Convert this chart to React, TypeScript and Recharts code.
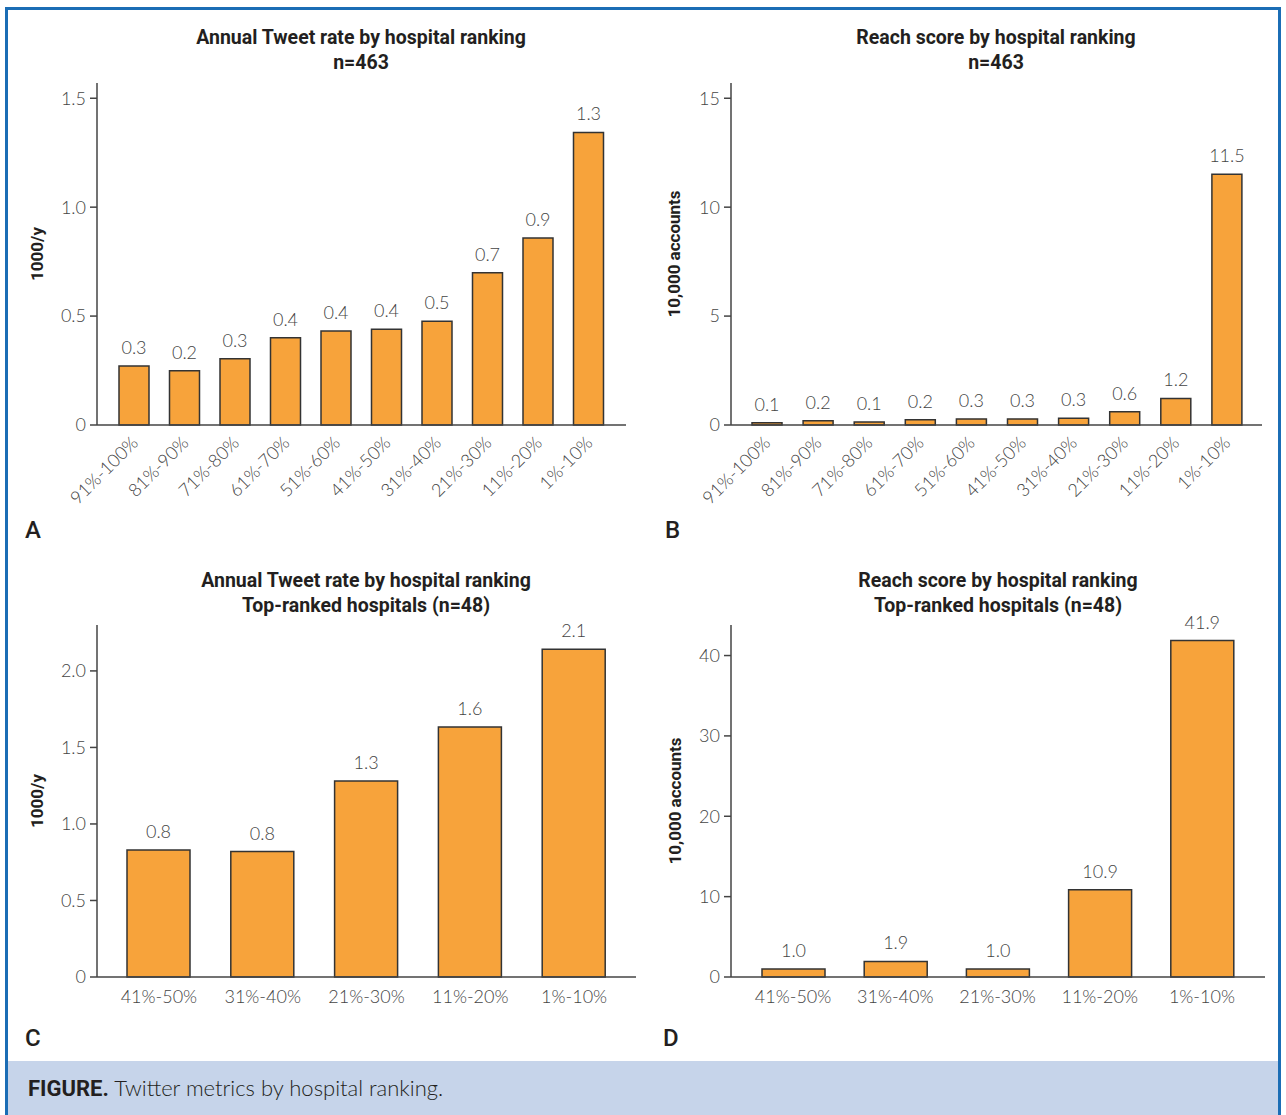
import React from 'react'
import { BarChart, Bar, XAxis, YAxis, LabelList } from 'recharts'

// hospital ranking groups
const allGroups = ['91%-100%', '81%-90%', '71%-80%', '61%-70%', '51%-60%', '41%-50%', '31%-40%', '21%-30%', '11%-20%', '1%-10%']
const topGroups = ['41%-50%', '31%-40%', '21%-30%', '11%-20%', '1%-10%']

// annual tweet rate (1000/y) and reach score (10,000 accounts)
const tweetRateAll = [0.271, 0.249, 0.304, 0.401, 0.431, 0.44, 0.476, 0.699, 0.858, 1.343]
const reachAll = [0.107, 0.2, 0.14, 0.24, 0.28, 0.28, 0.31, 0.61, 1.22, 11.51]
const tweetRateTop = [0.83, 0.82, 1.28, 1.634, 2.141]
const reachTop = [0.99, 1.93, 0.99, 10.86, 41.87]

const ticksA = [0, 0.5, 1.0, 1.5]
const ticksB = [0, 5, 10, 15]
const ticksC = [0, 0.5, 1.0, 1.5, 2.0]
const ticksD = [0, 10, 20, 30, 40]

const BAR = '#F7A33B'
const INK = '#333'
const TICK_FONT = 'Lato, "Open Sans", sans-serif'
const BOLD_FONT = 'Roboto, "Liberation Sans", sans-serif'

const toRows = (groups: string[], values: number[]) => groups.map((g, i) => ({ group: g, value: values[i] }))

const RotatedTick = (props: any) => {
  const { x, y, payload } = props
  const ax = x + 5
  const ay = y + 19
  return (
    <text x={ax} y={ay} transform={`rotate(-45 ${ax} ${ay})`} textAnchor="end" fontFamily={TICK_FONT} fontWeight={300} fontSize={18} fill="#444">
      {payload.value}
    </text>
  )
}

const FlatTick = (props: any) => {
  const { x, y, payload } = props
  return (
    <text x={x} y={y + 26} textAnchor="middle" fontFamily={TICK_FONT} fontWeight={300} fontSize={18} fill="#444">
      {payload.value}
    </text>
  )
}

interface PanelProps {
  left: number
  top: number
  width: number
  height: number
  plotTop: number
  plotRight: number
  axisX: number
  axisY: number
  pad: [number, number]
  barSize: number
  rows: { group: string; value: number }[]
  domain: [number, number]
  ticks: number[]
  fmt: (v: number) => string
  rotated?: boolean
}

function Panel(p: PanelProps) {
  return (
    <div style={{ position: 'absolute', left: p.left, top: p.top }}>
      <BarChart width={p.width} height={p.height} data={p.rows} margin={{ top: p.plotTop, right: p.width - p.plotRight, bottom: 0, left: 0 }}>
        <XAxis
          dataKey="group"
          interval={0}
          height={p.height - p.axisY}
          tickLine={false}
          tickSize={0}
          tickMargin={0}
          padding={{ left: p.pad[0], right: p.pad[1] }}
          stroke="#444"
          strokeWidth={1.5}
          tick={p.rotated ? <RotatedTick /> : <FlatTick />}
        />
        <YAxis
          width={p.axisX}
          domain={p.domain}
          ticks={p.ticks}
          interval={0}
          tickSize={7}
          tickMargin={4}
          tickFormatter={p.fmt}
          stroke="#444"
          strokeWidth={1.5}
          tick={{ fontFamily: TICK_FONT, fontWeight: 300, fontSize: 18, fill: '#444' }}
        />
        <Bar dataKey="value" fill={BAR} stroke={INK} strokeWidth={1.5} barSize={p.barSize} isAnimationActive={false}>
          <LabelList dataKey="value" position="top" offset={12} formatter={(v: any) => Number(v).toFixed(1)} fontFamily={TICK_FONT} fontWeight={300} fontSize={18} fill="#444" />
        </Bar>
      </BarChart>
    </div>
  )
}

const titleStyle = (cx: number, y: number): React.CSSProperties => ({
  position: 'absolute', left: cx - 250, top: y, width: 500, textAlign: 'center',
  fontFamily: BOLD_FONT, fontWeight: 700, fontSize: 19.5, lineHeight: '25px', color: '#231f20',
})

const axisTitle = (cx: number, cy: number, text: string) => (
  <div style={{
    position: 'absolute', left: cx, top: cy, transform: 'translate(-50%, -50%) rotate(-90deg)', whiteSpace: 'nowrap',
    fontFamily: BOLD_FONT, fontWeight: 700, fontSize: 17, color: '#231f20',
  }}>{text}</div>
)

const letter = (x: number, y: number, t: string) => (
  <div style={{ position: 'absolute', left: x, top: y, fontFamily: BOLD_FONT, fontWeight: 500, fontSize: 24, lineHeight: '24px', color: '#231f20' }}>{t}</div>
)

export default function App() {
  const one = (v: number) => (v === 0 ? '0' : v.toFixed(1))
  const int = (v: number) => String(v)
  return (
    <div style={{ position: 'absolute', left: 0, top: 0, width: 1286, height: 1115, background: '#fff', overflow: 'hidden' }}>
      <div style={{ position: 'absolute', left: 5, top: 7, width: 1270, height: 1120, border: '3px solid #1b6db5', boxSizing: 'content-box' }} />
      <div style={{ position: 'absolute', left: 8, top: 1061, width: 1270, height: 60, background: '#c6d4ea' }} />
      <div style={{ position: 'absolute', left: 28, top: 1074, fontSize: 22, color: '#231f20', whiteSpace: 'nowrap' }}>
        <span style={{ fontFamily: BOLD_FONT, fontWeight: 700 }}>FIGURE.</span>
        <span style={{ fontFamily: TICK_FONT, fontWeight: 300 }}> Twitter metrics by hospital ranking.</span>
      </div>

      <div style={titleStyle(361, 25)}>Annual Tweet rate by hospital ranking<br />n=463</div>
      <div style={titleStyle(996, 25)}>Reach score by hospital ranking<br />n=463</div>
      <div style={titleStyle(366, 568)}>Annual Tweet rate by hospital ranking<br />Top-ranked hospitals (n=48)</div>
      <div style={titleStyle(998, 568)}>Reach score by hospital ranking<br />Top-ranked hospitals (n=48)</div>

      <Panel left={0} top={0} width={640} height={540} plotTop={83} plotRight={626} axisX={97} axisY={425} pad={[12, 12]} barSize={30}
        rows={toRows(allGroups, tweetRateAll)} domain={[0, 1.57]} ticks={ticksA} fmt={one} rotated />
      <Panel left={640} top={0} width={640} height={540} plotTop={83} plotRight={622} axisX={91} axisY={425} pad={[10, 10]} barSize={30}
        rows={toRows(allGroups, reachAll)} domain={[0, 15.7]} ticks={ticksB} fmt={int} rotated />
      <Panel left={0} top={540} width={640} height={520} plotTop={85} plotRight={636} axisX={97} axisY={437} pad={[10, 10]} barSize={63}
        rows={toRows(topGroups, tweetRateTop)} domain={[0, 2.3]} ticks={ticksC} fmt={one} />
      <Panel left={640} top={540} width={640} height={520} plotTop={85} plotRight={625} axisX={91} axisY={437} pad={[11, 12]} barSize={63}
        rows={toRows(topGroups, reachTop)} domain={[0, 43.8]} ticks={ticksD} fmt={int} />

      {axisTitle(37, 254, '1000/y')}
      {axisTitle(674, 254, '10,000 accounts')}
      {axisTitle(37, 801, '1000/y')}
      {axisTitle(675, 801, '10,000 accounts')}

      {letter(25, 518, 'A')}
      {letter(665, 518, 'B')}
      {letter(25, 1026, 'C')}
      {letter(663, 1026, 'D')}
    </div>
  )
}
